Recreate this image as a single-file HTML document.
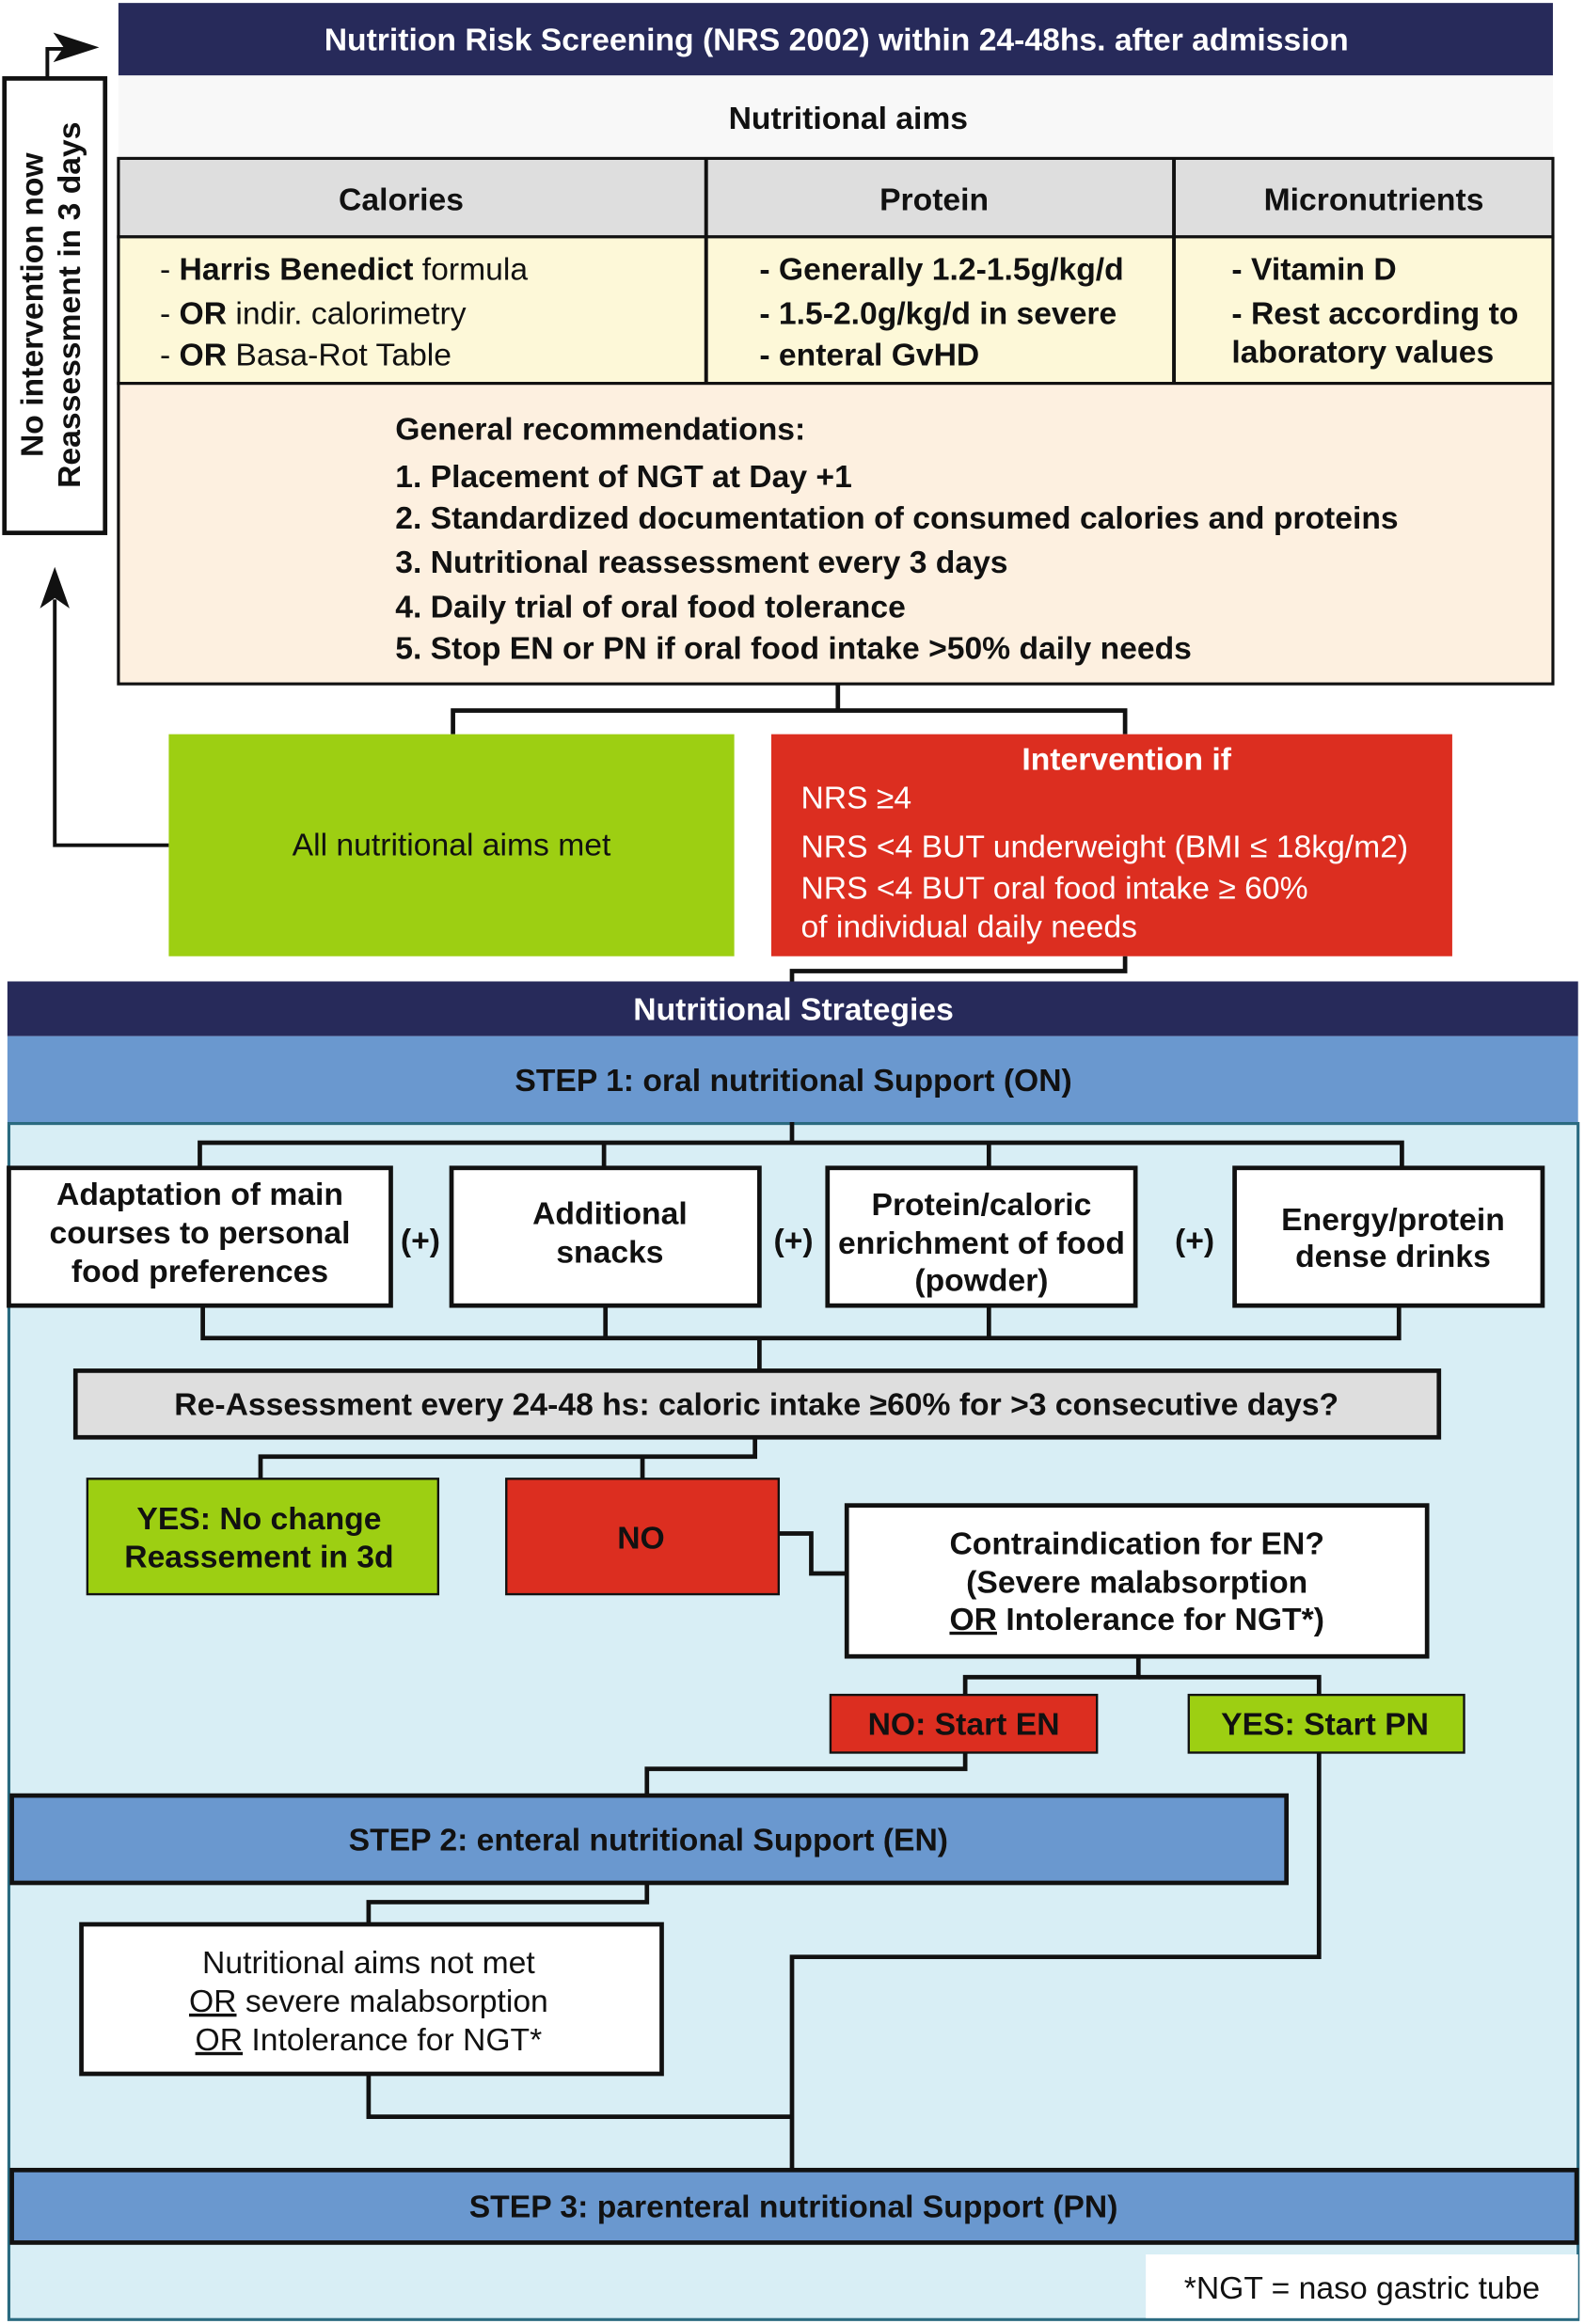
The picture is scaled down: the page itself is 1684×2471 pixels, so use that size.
<!DOCTYPE html>
<html><head><meta charset="utf-8"><style>
html,body{margin:0;padding:0;background:#fff}
svg{display:block}
text{font-family:"Liberation Sans",Arial,sans-serif;font-size:21.4px;fill:#111}
.b{font-weight:bold}
.w{fill:#fff}
.m{text-anchor:middle}
</style></head><body>
<svg width="1684" height="2471" viewBox="0 0 1070 1570" preserveAspectRatio="none" xmlns="http://www.w3.org/2000/svg">
<rect width="1070" height="1570" fill="#fff"/>
<rect x="80" y="2" width="969" height="49" fill="#272a5a"/>
<text x="565" y="34" class="b w m">Nutrition Risk Screening (NRS 2002) within 24-48hs. after admission</text>
<rect x="80" y="51" width="969" height="56" fill="#f8f8f8"/>
<text x="573" y="87" class="b m">Nutritional aims</text>
<rect x="80" y="107" width="969" height="53" fill="#dedede" stroke="#111" stroke-width="2"/>
<rect x="80" y="160" width="969" height="99" fill="#fdf8d8" stroke="#111" stroke-width="2"/>
<line x1="477" y1="107" x2="477" y2="259" stroke="#111" stroke-width="2.5"/>
<line x1="793" y1="107" x2="793" y2="259" stroke="#111" stroke-width="2.5"/>
<text x="271" y="142" class="b m">Calories</text>
<text x="631" y="142" class="b m">Protein</text>
<text x="928" y="142" class="b m">Micronutrients</text>
<text x="108" y="189">- <tspan class="b">Harris Benedict</tspan> formula</text>
<text x="108" y="219">- <tspan class="b">OR</tspan> indir. calorimetry</text>
<text x="108" y="247">- <tspan class="b">OR</tspan> Basa-Rot Table</text>
<text x="513" y="189" class="b">- Generally 1.2-1.5g/kg/d</text>
<text x="513" y="219" class="b">- 1.5-2.0g/kg/d in severe</text>
<text x="513" y="247" class="b">- enteral GvHD</text>
<text x="832" y="189" class="b">- Vitamin D</text>
<text x="832" y="219" class="b">- Rest according to</text>
<text x="832" y="245" class="b">laboratory values</text>
<rect x="80" y="259" width="969" height="203" fill="#fdf0e0" stroke="#111" stroke-width="2"/>
<text x="267" y="297" class="b">General recommendations:</text>
<text x="267" y="329" class="b">1. Placement of NGT at Day +1</text>
<text x="267" y="357" class="b">2. Standardized documentation of consumed calories and proteins</text>
<text x="267" y="387" class="b">3. Nutritional reassessment every 3 days</text>
<text x="267" y="417" class="b">4. Daily trial of oral food tolerance</text>
<text x="267" y="445" class="b">5. Stop EN or PN if oral food intake &gt;50% daily needs</text>
<rect x="3" y="53" width="68" height="307" fill="#fff" stroke="#111" stroke-width="3"/>
<text transform="translate(29,206) rotate(-90)" class="b m">No intervention now</text>
<text transform="translate(54,206) rotate(-90)" class="b m">Reassessment in 3 days</text>
<polyline points="32,53 32,33 44,33" fill="none" stroke="#111" stroke-width="2.5"/>
<polygon points="36,22 67,32 36,42 43,32" fill="#111"/>
<polyline points="114,571 37,571 37,405" fill="none" stroke="#111" stroke-width="2.5"/>
<polygon points="37,383 47,411 37,404 27,411" fill="#111"/>
<polyline points="566,462 566,480" fill="none" stroke="#111" stroke-width="3"/>
<polyline points="306,496 306,480 760,480 760,496" fill="none" stroke="#111" stroke-width="3"/>
<rect x="114" y="496" width="382" height="150" fill="#9dcf12"/>
<text x="305" y="578" class="m">All nutritional aims met</text>
<rect x="521" y="496" width="460" height="150" fill="#dc2e20"/>
<text x="761" y="520" class="b w m">Intervention if</text>
<text x="541" y="546" class="w">NRS ≥4</text>
<text x="541" y="579" class="w">NRS &lt;4 BUT underweight (BMI ≤ 18kg/m2)</text>
<text x="541" y="607" class="w">NRS &lt;4 BUT oral food intake ≥ 60%</text>
<text x="541" y="633" class="w">of individual daily needs</text>
<polyline points="760,646 760,656 535,656 535,663" fill="none" stroke="#111" stroke-width="3"/>
<rect x="5" y="663" width="1061" height="37" fill="#272a5a"/>
<text x="536" y="689" class="b w m">Nutritional Strategies</text>
<rect x="5" y="700" width="1061" height="58" fill="#6a98cf"/>
<text x="536" y="737" class="b m">STEP 1: oral nutritional Support (ON)</text>
<rect x="6" y="759" width="1060" height="808" fill="#d8eef5" stroke="#2a6a80" stroke-width="2"/>
<g fill="none" stroke="#111" stroke-width="3">
<polyline points="535,758 535,772"/>
<polyline points="135,789 135,772 947,772 947,789"/>
<line x1="408" y1="772" x2="408" y2="789"/>
<line x1="668" y1="772" x2="668" y2="789"/>
<polyline points="137,882 137,904 945,904 945,882"/>
<line x1="409" y1="882" x2="409" y2="904"/>
<line x1="668" y1="882" x2="668" y2="904"/>
<line x1="513" y1="904" x2="513" y2="926"/>
<polyline points="510,971 510,984 176,984 176,999"/>
<line x1="434" y1="984" x2="434" y2="999"/>
<polyline points="526,1036 548,1036 548,1063 572,1063"/>
<polyline points="769,1119 769,1133 652,1133 652,1145"/>
<polyline points="769,1133 891,1133 891,1145"/>
<polyline points="652,1184 652,1195 437,1195 437,1213"/>
<polyline points="437,1272 437,1285 249,1285 249,1300"/>
<polyline points="249,1401 249,1430 535,1430"/>
<polyline points="891,1184 891,1322 535,1322 535,1466"/>
</g>
<g fill="#fff" stroke="#111" stroke-width="3">
<rect x="6" y="789" width="258" height="93"/>
<rect x="305" y="789" width="208" height="93"/>
<rect x="559" y="789" width="208" height="93"/>
<rect x="834" y="789" width="208" height="93"/>
</g>
<text x="135" y="814" class="b m">Adaptation of main</text>
<text x="135" y="840" class="b m">courses to personal</text>
<text x="135" y="866" class="b m">food preferences</text>
<text x="412" y="827" class="b m">Additional</text>
<text x="412" y="853" class="b m">snacks</text>
<text x="663" y="821" class="b m">Protein/caloric</text>
<text x="663" y="847" class="b m">enrichment of food</text>
<text x="663" y="872" class="b m">(powder)</text>
<text x="941" y="831" class="b m">Energy/protein</text>
<text x="941" y="856" class="b m">dense drinks</text>
<text x="284" y="845" class="b m">(+)</text>
<text x="536" y="845" class="b m">(+)</text>
<text x="807" y="845" class="b m">(+)</text>
<rect x="51" y="926" width="921" height="45" fill="#dedede" stroke="#111" stroke-width="3"/>
<text x="511" y="956" class="b m">Re-Assessment every 24-48 hs: caloric intake ≥60% for &gt;3 consecutive days?</text>
<rect x="59" y="999" width="237" height="78" fill="#9dcf12" stroke="#111" stroke-width="1.5"/>
<text x="175" y="1033" class="b m">YES: No change</text>
<text x="175" y="1059" class="b m">Reassement in 3d</text>
<rect x="342" y="999" width="184" height="78" fill="#dc2e20" stroke="#111" stroke-width="1.5"/>
<text x="433" y="1046" class="b m">NO</text>
<rect x="572" y="1017" width="392" height="102" fill="#fff" stroke="#111" stroke-width="3"/>
<text x="768" y="1050" class="b m">Contraindication for EN?</text>
<text x="768" y="1076" class="b m">(Severe malabsorption</text>
<text x="768" y="1101" class="b m"><tspan text-decoration="underline">OR</tspan> Intolerance for NGT*)</text>
<rect x="561" y="1145" width="180" height="39" fill="#dc2e20" stroke="#111" stroke-width="1.5"/>
<text x="651" y="1172" class="b m">NO: Start EN</text>
<rect x="803" y="1145" width="186" height="39" fill="#9dcf12" stroke="#111" stroke-width="1.5"/>
<text x="895" y="1172" class="b m">YES: Start PN</text>
<rect x="8" y="1213" width="861" height="59" fill="#6a98cf" stroke="#111" stroke-width="3"/>
<text x="438" y="1250" class="b m">STEP 2: enteral nutritional Support (EN)</text>
<rect x="55" y="1300" width="392" height="101" fill="#fff" stroke="#111" stroke-width="3"/>
<text x="249" y="1333" class="m">Nutritional aims not met</text>
<text x="249" y="1359" class="m"><tspan text-decoration="underline">OR</tspan> severe malabsorption</text>
<text x="249" y="1385" class="m"><tspan text-decoration="underline">OR</tspan> Intolerance for NGT*</text>
<rect x="8" y="1466" width="1057" height="49" fill="#6a98cf" stroke="#111" stroke-width="3"/>
<text x="536" y="1498" class="b m">STEP 3: parenteral nutritional Support (PN)</text>
<rect x="774" y="1523" width="292" height="43" fill="#fff"/>
<text x="920" y="1553" class="m">*NGT = naso gastric tube</text>
</svg>
</body></html>
